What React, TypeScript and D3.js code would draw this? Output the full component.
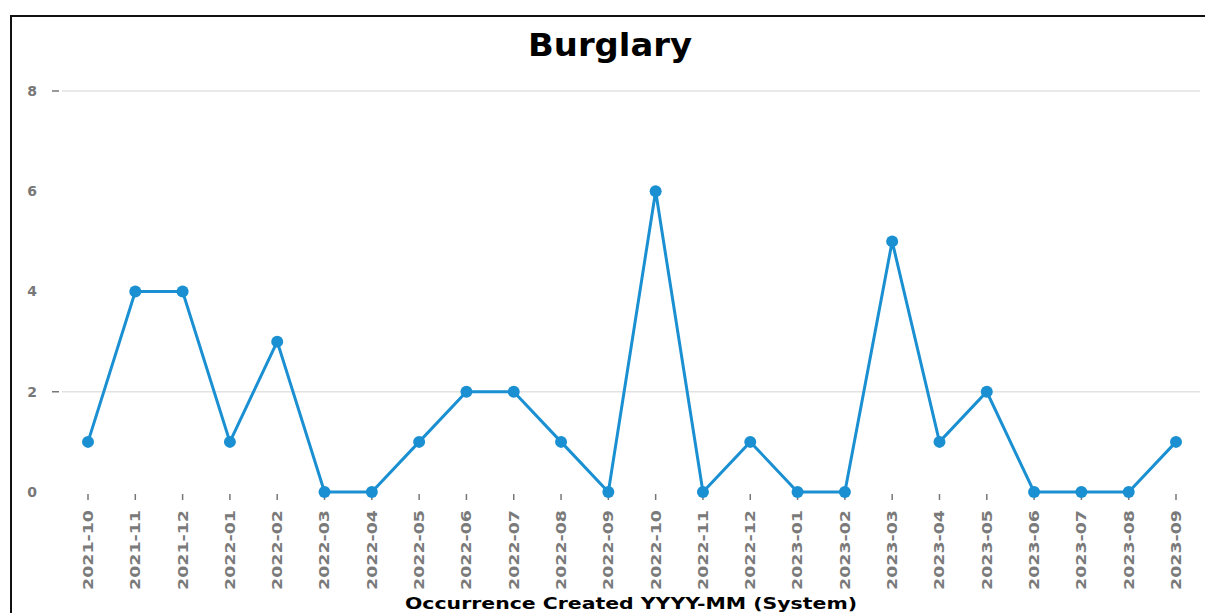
import * as d3 from "d3"

const months = [
  "2021-10", "2021-11", "2021-12", "2022-01", "2022-02", "2022-03",
  "2022-04", "2022-05", "2022-06", "2022-07", "2022-08", "2022-09",
  "2022-10", "2022-11", "2022-12", "2023-01", "2023-02", "2023-03",
  "2023-04", "2023-05", "2023-06", "2023-07", "2023-08", "2023-09",
]
const burglaries = [1, 4, 4, 1, 3, 0, 0, 1, 2, 2, 1, 0, 6, 0, 1, 0, 0, 5, 1, 2, 0, 0, 0, 1]
const yTicks = [0, 2, 4, 6, 8]
const gridTicks = [2, 8]

const width = 1205
const height = 613
const lineColour = "#1a90d2"

export default function App() {
  const x = d3.scalePoint<string>().domain(months).range([88, 1176])
  const y = d3.scaleLinear().domain([0, 8]).range([492, 91])

  const line = d3
    .line<number>()
    .x((_, i) => x(months[i]) as number)
    .y((d) => y(d))

  return (
    <svg
      width={width}
      height={height}
      style={{ position: "absolute", left: 0, top: 0, fontFamily: "DejaVu Sans, Verdana, sans-serif" }}
    >
      <rect x={0} y={0} width={width} height={height} fill="#fff" />
      <rect x={11} y={16} width={1220} height={640} fill="none" stroke="#111" strokeWidth={2} />

      <text
        x={610}
        y={56}
        textAnchor="middle"
        fontSize={32}
        fontWeight="bold"
        fill="#000"
        textLength={164}
        lengthAdjust="spacingAndGlyphs"
      >
        Burglary
      </text>

      {gridTicks.map((t) => (
        <g key={t}>
          <line x1={62} x2={1200} y1={y(t)} y2={y(t)} stroke="#e2e2e2" strokeWidth={1.5} />
          <line x1={52} x2={59} y1={y(t)} y2={y(t)} stroke="#777" strokeWidth={1.5} />
        </g>
      ))}

      {yTicks.map((t) => (
        <text
          key={t}
          x={32}
          y={y(t)}
          dy="0.35em"
          textAnchor="middle"
          fontSize={14}
          fontWeight="bold"
          fill="#777"
        >
          {t}
        </text>
      ))}

      {months.map((m) => (
        <g key={m} transform={`translate(${x(m)},0)`}>
          <line y1={494} y2={500} stroke="#777" strokeWidth={1.5} />
          <text
            transform="translate(0,510) rotate(-90)"
            dy="0.35em"
            textAnchor="end"
            fontSize={14}
            fontWeight="bold"
            fill="#7a7a7a"
            textLength={80}
            lengthAdjust="spacingAndGlyphs"
          >
            {m}
          </text>
        </g>
      ))}

      <path d={line(burglaries) ?? ""} fill="none" stroke={lineColour} strokeWidth={3} />
      {burglaries.map((v, i) => (
        <circle key={i} cx={x(months[i])} cy={y(v)} r={6} fill={lineColour} />
      ))}

      <text
        x={631}
        y={609}
        textAnchor="middle"
        fontSize={16}
        fontWeight="bold"
        fill="#000"
        textLength={452}
        lengthAdjust="spacingAndGlyphs"
      >
        Occurrence Created YYYY-MM (System)
      </text>
    </svg>
  )
}
